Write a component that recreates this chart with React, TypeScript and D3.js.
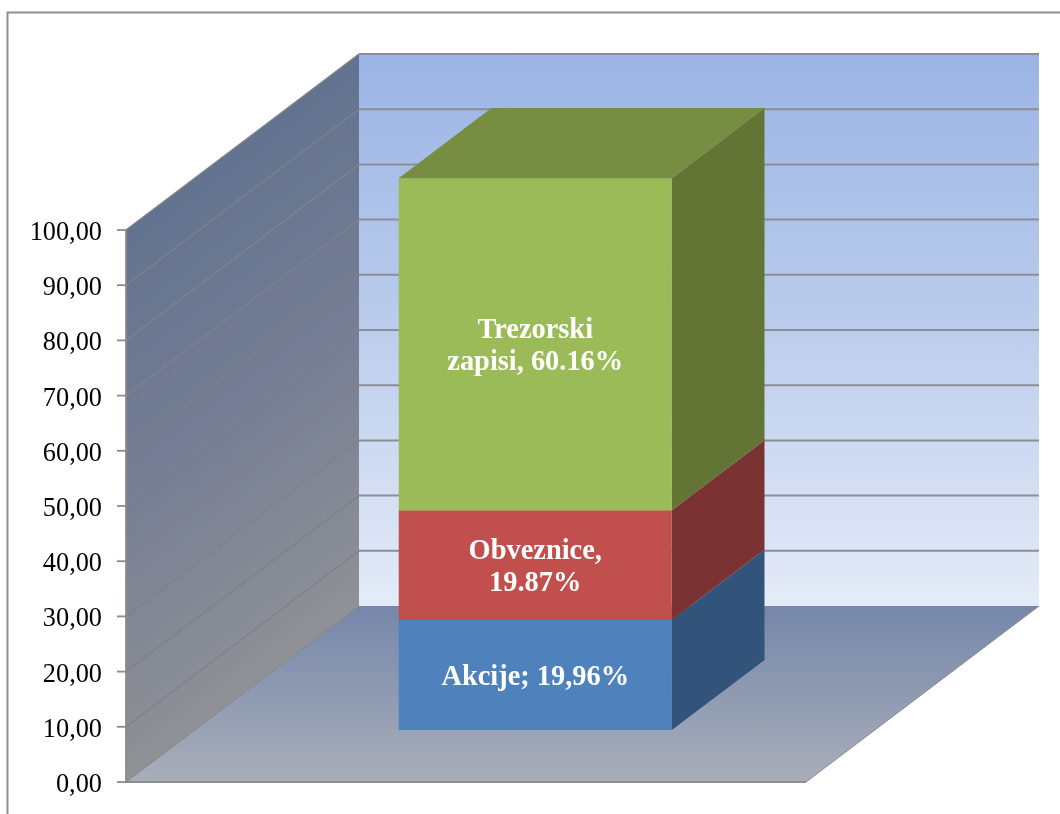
import React from "react";
import * as d3 from "d3";

const tickValues = [0, 10, 20, 30, 40, 50, 60, 70, 80, 90, 100];
const tickLabels = ["0,00", "10,00", "20,00", "30,00", "40,00", "50,00", "60,00", "70,00", "80,00", "90,00", "100,00"];
const seriesNames = ["Akcije", "Obveznice", "Trezorski zapisi"];
const seriesValues = [19.96, 19.87, 60.16];
const seriesLabels = [["Akcije; 19,96%"], ["Obveznice,", "19.87%"], ["Trezorski", "zapisi, 60.16%"]];
const frontColors = ["#4f81bd", "#c0504d", "#9bbb59"];
const sideColors = ["#31527a", "#7a3230", "#647534"];
const topColor = "#768d42";

const W = 1060, H = 814;
const x = d3.scaleLinear().domain([0, 1]).range([126, 806]);
const y = d3.scaleLinear().domain([0, 100]).range([782, 230]);
// depth projection: 0 = front plane, 1 = back wall
const dx = d3.scaleLinear().domain([0, 1]).range([0, 233]);
const dy = d3.scaleLinear().domain([0, 1]).range([0, -176]);

const barX0 = 0.3, barX1 = 0.7015, barD0 = 0.295, barD1 = 0.693;
const pt = (u: number, v: number, d: number): [number, number] => [x(u) + dx(d), y(v) + dy(d)];
const poly = (pts: [number, number][]) => d3.line()(pts) + "Z";

const stacks = d3.stack<number[]>().keys([0, 1, 2] as any).value((r: any, k: any) => r[k])([seriesValues as any]);
const grid = "#8b8e96";

export default function App() {
  return (
    <svg width={W} height={H} viewBox={`0 0 ${W} ${H}`} style={{ position: "absolute", left: 0, top: 0, background: "#fff" }}>
      <defs>
        <filter id="soft" x="0" y="0" width="100%" height="100%" filterUnits="userSpaceOnUse" primitiveUnits="userSpaceOnUse">
          <feGaussianBlur stdDeviation="0.45" />
        </filter>
        <linearGradient id="back" x1="0" y1="0" x2="0" y2="1">
          <stop offset="0" stopColor="#9ab4e4" />
          <stop offset="0.5" stopColor="#bccdec" />
          <stop offset="1" stopColor="#e4ebf8" />
        </linearGradient>
        <linearGradient id="wall" gradientUnits="userSpaceOnUse" x1={126} y1={230} x2={391} y2={581}>
          <stop offset="0" stopColor="#62728f" />
          <stop offset="0.5" stopColor="#767f94" />
          <stop offset="1" stopColor="#8f9195" />
        </linearGradient>
        <linearGradient id="floor" x1="0" y1="0" x2="0" y2="1">
          <stop offset="0" stopColor="#7587aa" />
          <stop offset="1" stopColor="#a9aeb9" />
        </linearGradient>
      </defs>
      <g filter="url(#soft)">
        <path d={`M7.5 ${H + 4}V12.5H${W + 4}`} fill="none" stroke="#8e8e8e" strokeWidth={2} />

        <path d={poly([pt(0, 0, 1), pt(1, 0, 1), pt(1, 100, 1), pt(0, 100, 1)])} fill="url(#back)" />
        <path d={poly([pt(0, 0, 0), pt(0, 0, 1), pt(0, 100, 1), pt(0, 100, 0)])} fill="url(#wall)" />
        <path d={poly([pt(0, 0, 0), pt(1, 0, 0), pt(1, 0, 1), pt(0, 0, 1)])} fill="url(#floor)" />

        {tickValues.map((t, i) => {
          const a = pt(0, t, 0), b = pt(0, t, 1), c = pt(1, t, 1);
          return (
            <g key={t}>
              {i > 0 && <path d={d3.line()([a, b])!} stroke="#7f8189" strokeWidth={1.4} fill="none" />}
              {i > 0 && <path d={d3.line()([b, c])!} stroke={grid} strokeWidth={2} fill="none" />}
              <line x1={a[0] - 9} x2={a[0]} y1={a[1]} y2={a[1]} stroke="#8c8c8c" strokeWidth={1.8} />
              <text x={102} y={a[1] + 10} textAnchor="end" fontFamily="'Liberation Serif'" fontSize={26.3} fill="#000">{tickLabels[i]}</text>
            </g>
          );
        })}
        <path d={d3.line()([pt(1, 0, 0), pt(0, 0, 0), pt(0, 100, 0)])!} fill="none" stroke="#8c8c8c" strokeWidth={1.8} />
        <path d={d3.line()([pt(0, 0, 0), pt(0, 0, 1)])!} fill="none" stroke="#808288" strokeWidth={1} />
        <path d={d3.line()([pt(1, 0, 0), pt(1, 0, 1)])!} fill="none" stroke="#85888f" strokeWidth={1} />

        {seriesNames.map((name, i) => {
          const [v0, v1] = stacks[i][0];
          return (
            <g key={name}>
              <path d={poly([pt(barX1, v0, barD0), pt(barX1, v0, barD1), pt(barX1, v1, barD1), pt(barX1, v1, barD0)])} fill={sideColors[i]} />
              <path d={poly([pt(barX0, v0, barD0), pt(barX1, v0, barD0), pt(barX1, v1, barD0), pt(barX0, v1, barD0)])} fill={frontColors[i]} />
            </g>
          );
        })}
        <path d={poly([pt(barX0, stacks[2][0][1], barD0), pt(barX1, stacks[2][0][1], barD0), pt(barX1, stacks[2][0][1], barD1), pt(barX0, stacks[2][0][1], barD1)])} fill={topColor} />

        {seriesNames.map((name, i) => {
          const [v0, v1] = stacks[i][0];
          const lines = seriesLabels[i];
          const cx = (pt(barX0, 0, barD0)[0] + pt(barX1, 0, barD0)[0]) / 2;
          const cy = (pt(0, v0, barD0)[1] + pt(0, v1, barD0)[1]) / 2;
          const lh = 32;
          return (
            <text key={name} textAnchor="middle" fontFamily="'Liberation Serif'" fontWeight="bold" fontSize={28.4} fill="#fff">
              {lines.map((l, j) => (
                <tspan key={j} x={cx} y={cy + 10.3 + (j - (lines.length - 1) / 2) * lh}>{l}</tspan>
              ))}
            </text>
          );
        })}
      </g>
    </svg>
  );
}
